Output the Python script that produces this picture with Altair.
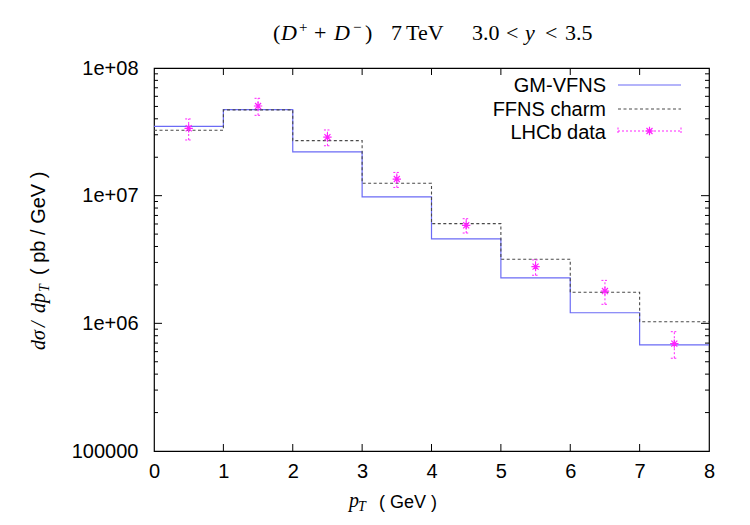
import altair as alt
import pandas as pd

# ---- data ----
bin_edges = [0, 1, 2, 3, 4, 5, 6, 7, 8]
gm_vfns = [3.49e7, 4.72e7, 2.20e7, 9.77e6, 4.58e6, 2.27e6, 1.21e6, 6.78e5]
ffns_charm = [3.25e7, 4.70e7, 2.70e7, 1.25e7, 6.04e6, 3.18e6, 1.75e6, 1.03e6]
lhcb_pt = [0.5, 1.5, 2.5, 3.5, 4.5, 5.5, 6.5, 7.5]
lhcb_val = [3.37e7, 5.04e7, 2.87e7, 1.35e7, 5.86e6, 2.78e6, 1.79e6, 6.93e5]
lhcb_hi = [3.99e7, 5.79e7, 3.27e7, 1.52e7, 6.60e6, 3.14e6, 2.17e6, 8.60e5]
lhcb_lo = [2.73e7, 4.26e7, 2.46e7, 1.16e7, 5.10e6, 2.38e6, 1.41e6, 5.33e5]

x_ticks = [0, 1, 2, 3, 4, 5, 6, 7, 8]
y_ticks = [1e5, 1e6, 1e7, 1e8]
y_tick_labels = ["100000", "1e+06", "1e+07", "1e+08"]
y_minor = [k * 10 ** e for e in (5, 6, 7) for k in range(2, 10)]
legend_labels = ["GM-VFNS", "FFNS charm", "LHCb data"]

W, H = 555, 383
SANS = "Liberation Sans"
SERIF = "Liberation Serif"
GM_COLOR = "#6b6bf5"
FF_COLOR = "#4a4a4a"
DATA_COLOR = "#ff22ff"
STAR = "M-1,0L1,0M0,-1L0,1M-0.72,-0.72L0.72,0.72M-0.72,0.72L0.72,-0.72"

xs = alt.Scale(domain=[0, 8], nice=False, zero=False)
ys = alt.Scale(type="log", domain=[1e5, 1e8], nice=False)

label_expr = " : ".join(
    f"datum.value == {v:.0f} ? '{l}'" for v, l in zip(y_ticks, y_tick_labels)
) + " : ''"

xaxis = alt.Axis(values=x_ticks, tickSize=0, domain=False, grid=False,
                 labelFont=SANS, labelFontSize=20, labelPadding=10,
                 labelColor="black", labelFlush=False, labelOverlap=False,
                 format="d", title=None)
yaxis = alt.Axis(values=y_ticks, labelExpr=label_expr, tickSize=0, domain=False,
                 grid=False, labelFont=SANS, labelFontSize=20, labelPadding=16,
                 labelColor="black", labelOverlap=False, labelFlush=False,
                 title=None)


def X(field):
    return alt.X(f"{field}:Q", scale=xs, axis=xaxis)


def Y(field):
    return alt.Y(f"{field}:Q", scale=ys, axis=yaxis)


one = pd.DataFrame({"a": [0]})


def txt(s, x, y, size=20, font=SERIF, style="normal", align="left",
        baseline="alphabetic", angle=0, color="black"):
    return alt.Chart(one).mark_text(
        text=s, font=font, fontSize=size, fontStyle=style, align=align,
        baseline=baseline, angle=angle, color=color
    ).encode(x=alt.value(x), y=alt.value(y))


# ---- step histograms ----
gm_df = pd.DataFrame({"x": bin_edges, "y": gm_vfns + [gm_vfns[-1]]})
ff_df = pd.DataFrame({"x": bin_edges, "y": ffns_charm + [ffns_charm[-1]]})
pts = pd.DataFrame({"x": lhcb_pt, "y": lhcb_val, "lo": lhcb_lo, "hi": lhcb_hi})

gm_line = alt.Chart(gm_df).mark_line(
    interpolate="step-after", color=GM_COLOR, strokeWidth=1.2
).encode(x=X("x"), y=Y("y"))

ff_line = alt.Chart(ff_df).mark_line(
    interpolate="step-after", color=FF_COLOR, strokeWidth=1.1, strokeDash=[3, 2.5]
).encode(x=X("x"), y=Y("y"))

err = alt.Chart(pts).mark_rule(color=DATA_COLOR, strokeDash=[2, 2], strokeWidth=1).encode(
    x=X("x"), y=Y("lo"), y2="hi:Q")
cap_hi = alt.Chart(pts).mark_rule(color=DATA_COLOR, strokeDash=[2, 1.5], strokeWidth=1,
                                  xOffset=-3.5, x2Offset=3.5).encode(
    x=X("x"), x2="x:Q", y=Y("hi"))
cap_lo = alt.Chart(pts).mark_rule(color=DATA_COLOR, strokeDash=[2, 1.5], strokeWidth=1,
                                  xOffset=-3.5, x2Offset=3.5).encode(
    x=X("x"), x2="x:Q", y=Y("lo"))
stars = alt.Chart(pts).mark_point(shape=STAR, size=70, filled=False,
                                  color=DATA_COLOR, strokeWidth=1.2, opacity=1).encode(
    x=X("x"), y=Y("y"))

# ---- inward ticks (gnuplot style, mirrored) ----
xt = pd.DataFrame({"x": x_ticks[1:-1]})
ytM = pd.DataFrame({"y": y_ticks[1:-1]})
ytm = pd.DataFrame({"y": y_minor})
tick_layers = [
    alt.Chart(xt).mark_rule(color="black").encode(x=X("x"), y=alt.value(0), y2=alt.value(7)),
    alt.Chart(xt).mark_rule(color="black").encode(x=X("x"), y=alt.value(H), y2=alt.value(H - 7)),
    alt.Chart(ytM).mark_rule(color="black").encode(y=Y("y"), x=alt.value(0), x2=alt.value(8)),
    alt.Chart(ytM).mark_rule(color="black").encode(y=Y("y"), x=alt.value(W), x2=alt.value(W - 8)),
    alt.Chart(ytm).mark_rule(color="black").encode(y=Y("y"), x=alt.value(0), x2=alt.value(4)),
    alt.Chart(ytm).mark_rule(color="black").encode(y=Y("y"), x=alt.value(W), x2=alt.value(W - 4)),
]

# ---- legend (gnuplot style: text right-aligned, sample to the right) ----
LX0, LX1 = 464, 527
leg = [
    txt(legend_labels[0], 452, 24, font=SANS, align="right"),
    txt(legend_labels[1], 452, 47.5, font=SANS, align="right"),
    txt(legend_labels[2], 452, 71, font=SANS, align="right"),
    alt.Chart(one).mark_rule(color=GM_COLOR, strokeWidth=1.2).encode(
        x=alt.value(LX0), x2=alt.value(LX1), y=alt.value(17)),
    alt.Chart(one).mark_rule(color=FF_COLOR, strokeWidth=1.1, strokeDash=[3, 2.5]).encode(
        x=alt.value(LX0), x2=alt.value(LX1), y=alt.value(41)),
    alt.Chart(one).mark_rule(color=DATA_COLOR, strokeWidth=1, strokeDash=[2, 2]).encode(
        x=alt.value(LX0), x2=alt.value(LX1), y=alt.value(63)),
    alt.Chart(one).mark_rule(color=DATA_COLOR, strokeWidth=1, strokeDash=[2, 1.5]).encode(
        x=alt.value(LX0), y=alt.value(59.5), y2=alt.value(66.5)),
    alt.Chart(one).mark_rule(color=DATA_COLOR, strokeWidth=1, strokeDash=[2, 1.5]).encode(
        x=alt.value(LX1), y=alt.value(59.5), y2=alt.value(66.5)),
    alt.Chart(one).mark_point(shape=STAR, size=70, filled=False, color=DATA_COLOR,
                              strokeWidth=1.2, opacity=1).encode(
        x=alt.value((LX0 + LX1) / 2), y=alt.value(63)),
]

# ---- title (LaTeX-like, built from pieces) ----
TB = -28
TS = -36
TF = 22
title = [
    txt("(", 273 - 154, TB, size=TF),
    txt("D", 281 - 154, TB, size=TF, style="italic"),
    txt("+", 299 - 154, TS, size=15),
    txt("+", 314 - 154, TB, size=TF),
    txt("D", 334 - 154, TB, size=TF, style="italic"),
    txt("\u2212", 353 - 154, TS, size=15),
    txt(")", 365 - 154, TB, size=TF),
    txt("7", 391 - 154, TB, size=TF),
    txt("TeV", 406 - 154, TB, size=TF),
    txt("3.0", 472 - 154, TB, size=TF),
    txt("<", 506 - 154, TB, size=TF),
    txt("y", 525 - 154, TB, size=TF, style="italic"),
    txt("<", 545 - 154, TB, size=TF),
    txt("3.5", 565 - 154, TB, size=TF),
]

# ---- axis titles ----
YB = 45 - 154
ylab = [
    txt("d\u03c3", YB, 350 - 68, style="italic", angle=270),
    txt("/", YB, 327 - 68, style="italic", angle=270),
    txt("dp", YB, 313 - 68, style="italic", angle=270),
    txt("T", YB + 4, 292 - 68, style="italic", size=14, angle=270),
    txt("( pb / GeV )", YB, 275 - 68, font=SANS, size=20, angle=270),
]
xlab = [
    txt("p", 349 - 154, 507 - 68, style="italic"),
    txt("T", 358 - 154, 511 - 68, style="italic", size=14),
    txt("( GeV )", 379 - 154, 508 - 68, font=SANS, size=18),
]

chart = alt.layer(
    gm_line, ff_line, err, cap_hi, cap_lo, stars,
    *tick_layers, *leg, *title, *ylab, *xlab
).properties(
    width=W, height=H,
    autosize=alt.AutoSizeParams(type="none"),
    padding={"left": 154, "top": 68, "right": 750 - 154 - W, "bottom": 525 - 68 - H},
    background="white",
).configure_view(stroke="black", strokeWidth=1.2)

chart.save("out.html", embed_options={"renderer": "svg", "actions": False})
